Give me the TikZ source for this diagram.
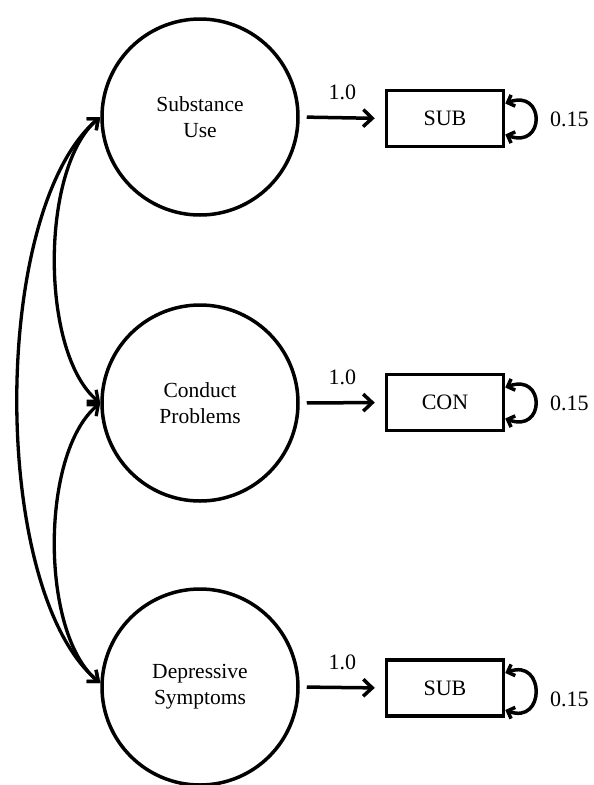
\documentclass[tikz,border=0pt]{standalone}
\usepackage{fontspec}
\setmainfont{Liberation Serif}
\usetikzlibrary{arrows.meta}
\begin{document}
\begin{tikzpicture}[x=1pt,y=-1pt,
  latent/.style={circle, draw, line width=3.5pt, minimum size=196pt, inner sep=0pt, align=center, font=\fontsize{21.5}{26}\selectfont},
  obs/.style={rectangle, draw, line width=3.5pt, minimum width=117pt, minimum height=56pt, inner sep=0pt, font=\fontsize{22}{26}\selectfont},
  load/.style={line width=3.5pt, -{Straight Barb[length=9pt,width=17pt]}, shorten <=7pt, shorten >=10pt},
  cov/.style={line width=3.3pt, {Straight Barb[length=9pt,width=15pt]}-{Straight Barb[length=9pt,width=15pt]}},
  varloop/.style={line width=3.5pt, {Straight Barb[length=6pt,width=12pt]}-{Straight Barb[length=6pt,width=12pt]}},
  lbl/.style={inner sep=0pt, font=\fontsize{22}{26}\selectfont}]
\useasboundingbox (0,0) rectangle (594,785);

\node[latent] (c1) at (200,117) {Substance\\Use};
\node[latent] (c2) at (200,403) {Conduct\\Problems};
\node[latent] (c3) at (200,687) {Depressive\\Symptoms};

\node[obs] (b1) at (445,118.5) {SUB};
\node[obs] (b2) at (445,402.5) {CON};
\node[obs] (b3) at (445,688) {SUB};

\draw[load] (c1.east) -- node[lbl, above=16pt] (l1) {1.0} (b1.west);
\draw[load] (c2.east) -- node[lbl, above=16pt] (l2) {1.0} (b2.west);
\draw[load] (c3.east) -- node[lbl, above=16pt] (l3) {1.0} (b3.west);

\draw[varloop] ([yshift=15pt]b1.east) .. controls +(40pt,15pt) and +(40pt,-15pt) .. node[lbl, pos=0.5, right=13pt] (v1) {0.15} ([yshift=-16pt]b1.east);
\draw[varloop] ([yshift=15pt]b2.east) .. controls +(40pt,15pt) and +(40pt,-15pt) .. node[lbl, pos=0.5, right=13pt] (v2) {0.15} ([yshift=-16pt]b2.east);
\draw[varloop] ([yshift=15pt]b3.east) .. controls +(40pt,15pt) and +(40pt,-15pt) .. node[lbl, pos=0.5, right=13pt, yshift=-8pt] (v3) {0.15} ([yshift=-22pt]b3.east);

\draw[cov] (c1.west) .. controls (40,168) and (40,353) .. (c2.west);
\draw[cov] (c2.west) .. controls (40,453) and (40,634) .. ([yshift=4pt]c3.west);
\draw[cov] (c1.west) .. controls (-10,210) and (-10,591) .. ([yshift=4pt]c3.west);
\end{tikzpicture}
\end{document}
